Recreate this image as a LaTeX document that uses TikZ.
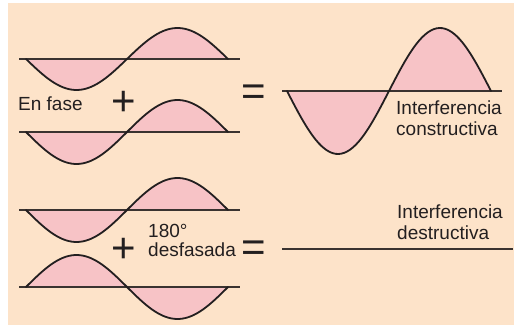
\documentclass[tikz,border=0pt]{standalone}
\usepackage{fontspec}
\setmainfont{Liberation Sans}
\definecolor{bgpeach}{HTML}{FDE3C9}
\definecolor{wavepink}{HTML}{F7C3C6}
\definecolor{inkdark}{HTML}{231F20}
\definecolor{axisdark}{HTML}{3A3330}
\begin{document}
\begin{tikzpicture}[x=1pt,y=-1pt,
  wavefill/.style={fill=wavepink},
  wavecurve/.style={draw=inkdark,line width=1.8pt,line cap=round},
  axisline/.style={draw=axisdark,line width=1.1pt},
  label/.style={font=\fontsize{19}{21}\selectfont,text=inkdark,align=left,inner sep=0pt,anchor=base west},
  opsign/.style={font=\fontsize{42}{42}\selectfont,text=inkdark,inner sep=0pt,anchor=base}]
\useasboundingbox (0,0) rectangle (515,326);
\fill[white] (0,0) rectangle (515,326);
\fill[bgpeach] (8,3) rectangle (514,325);
% wave 1 (top left, in phase)
\fill[wavefill] (26,59) -- plot[domain=0:360,samples=72] ({26+\x/360*202},{59+31*sin(\x)}) -- cycle;
\draw[axisline] (19,59) -- (240,59);
\draw[wavecurve] plot[domain=0:360,samples=72] ({26+\x/360*202},{59+31*sin(\x)});
% wave 2
\fill[wavefill] (26,132) -- plot[domain=0:360,samples=72] ({26+\x/360*202},{132+32*sin(\x)}) -- cycle;
\draw[axisline] (19,132) -- (240,132);
\draw[wavecurve] plot[domain=0:360,samples=72] ({26+\x/360*202},{132+32*sin(\x)});
% resulting wave (constructive)
\fill[wavefill] (287,91) -- plot[domain=0:360,samples=72] ({287+\x/360*204},{91+63*sin(\x)}) -- cycle;
\draw[axisline] (282,91) -- (502,91);
\draw[wavecurve] plot[domain=0:360,samples=72] ({287+\x/360*204},{91+63*sin(\x)});
% wave 3 (bottom left)
\fill[wavefill] (26,210) -- plot[domain=0:360,samples=72] ({26+\x/360*202},{210+32*sin(\x)}) -- cycle;
\draw[axisline] (19,210) -- (240,210);
\draw[wavecurve] plot[domain=0:360,samples=72] ({26+\x/360*202},{210+32*sin(\x)});
% wave 4 (180 out of phase)
\fill[wavefill] (26,287) -- plot[domain=0:360,samples=72] ({26+\x/360*202},{287-32*sin(\x)}) -- cycle;
\draw[axisline] (19,287) -- (240,287);
\draw[wavecurve] plot[domain=0:360,samples=72] ({26+\x/360*202},{287-32*sin(\x)});
% destructive result
\draw[axisline] (282,249) -- (513,249);
% labels
\node[label] (enfase) at (18,111) {En fase};
\node[label] (constr) at (396,136) {Interferencia\\constructiva};
\node[label,font=\fontsize{19}{19}\selectfont] (desf) at (148,257) {180°\\desfasada};
\node[label] (destr) at (397,240) {Interferencia\\destructiva};
% operators
\node[opsign] (plus1) at (123.5,116) {+};
\node[opsign] (eq1) at (253.5,106) {=};
\node[opsign] (plus2) at (123.5,263) {+};
\node[opsign] (eq2) at (254,262) {=};
\end{tikzpicture}
\end{document}
